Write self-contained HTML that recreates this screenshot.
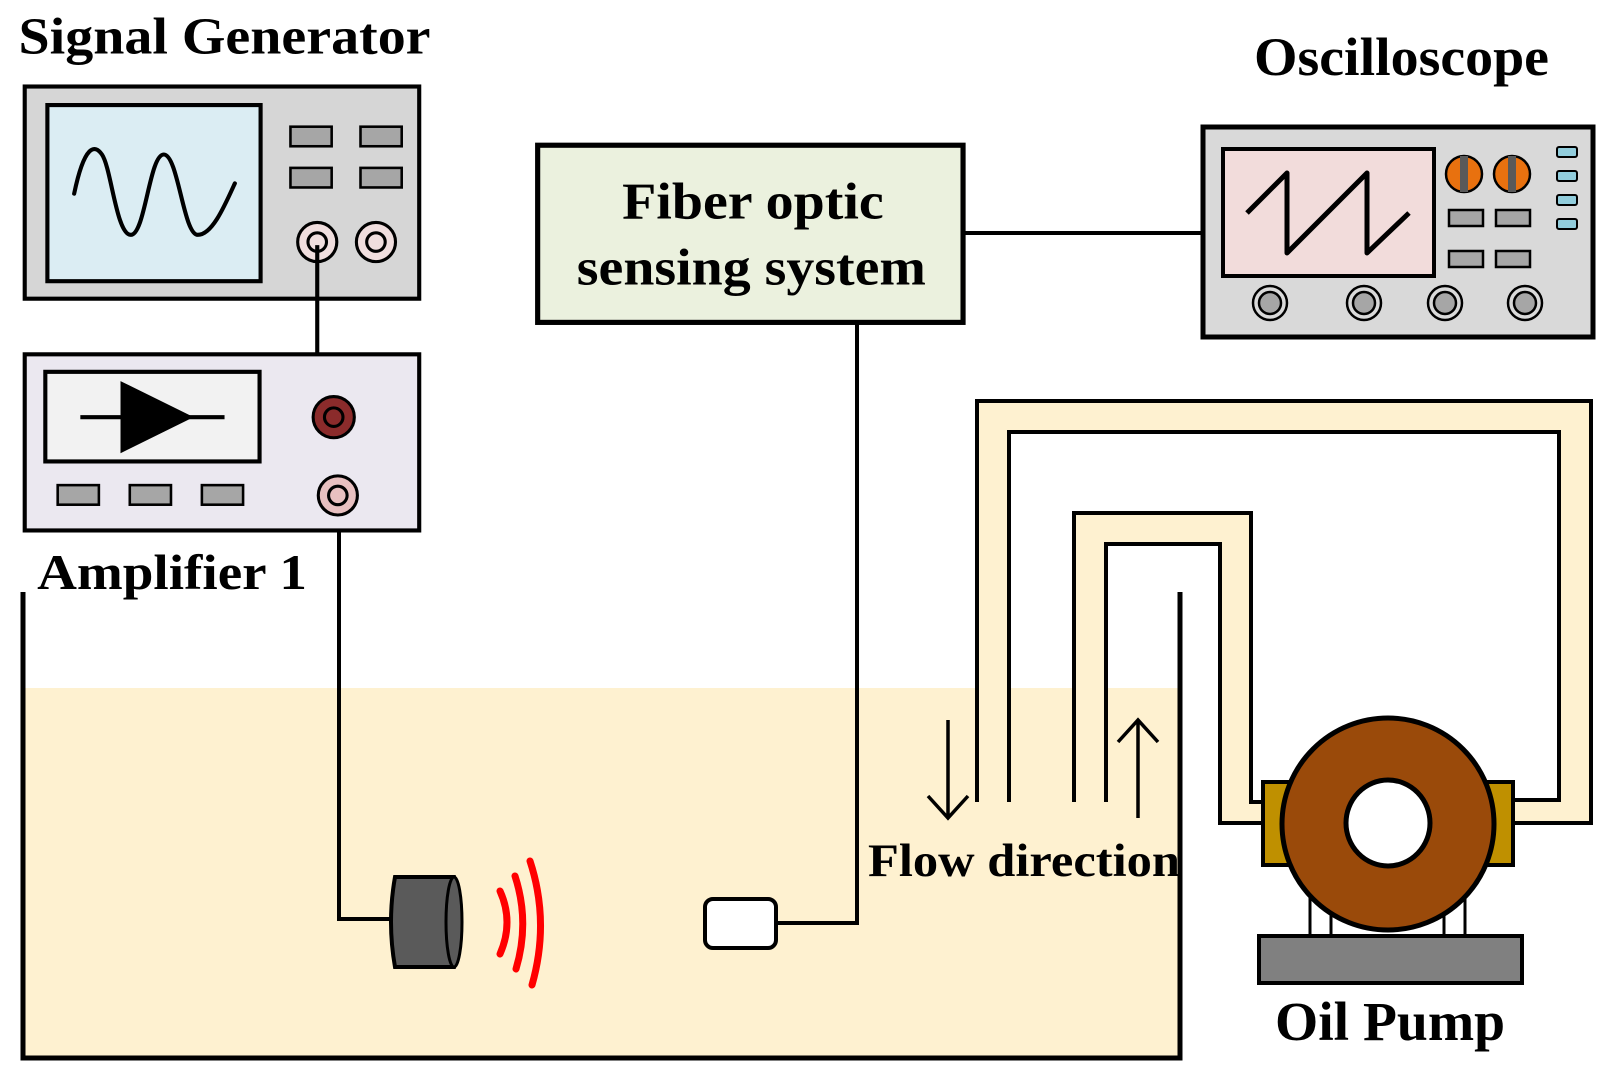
<!DOCTYPE html>
<html><head><meta charset="utf-8"><style>
html,body{margin:0;padding:0;background:#fff;}
svg{display:block;}
text{font-family:"Liberation Serif",serif;font-weight:bold;fill:#000;}
</style></head><body>
<svg width="1610" height="1086" viewBox="0 0 1610 1086" xmlns="http://www.w3.org/2000/svg">
<rect width="1610" height="1086" fill="#fff"/>
<!-- tank fill (actual coords) -->
<rect x="23" y="688" width="1157" height="370" fill="#fef1d0"/>
<!-- pipes fill -->
<path d="M977 401 H1591 V823 H1512 V800 H1559 V432 H1009 V802 H977 Z" fill="#fef1d0"/>
<path d="M1074 513 H1251 V802 H1270 V823 H1220 V544 H1106 V802 H1074 Z" fill="#fef1d0"/>
<g fill="none" stroke="#000" stroke-width="4" stroke-linejoin="miter">
<path d="M977 802 V401 H1591 V823 H1512"/>
<path d="M1009 802 V432 H1559 V800 H1512"/>
<path d="M1074 802 V513 H1251 V802 H1270"/>
<path d="M1106 802 V544 H1220 V823 H1270"/>
</g>
<!-- tank walls -->
<path d="M23 592 V1058 H1180 V592" fill="none" stroke="#000" stroke-width="5"/>
<!-- arrows -->
<g stroke="#000" stroke-width="3.5" fill="none">
<path d="M948 720 V818 M928 796 L948 818 L968 796"/>
<path d="M1138 818 V720 M1118 742 L1138 720 L1158 742"/>
</g>
<text x="868" y="876" font-size="47" textLength="312" lengthAdjust="spacingAndGlyphs">Flow direction</text>

<!-- pump -->
<g stroke="#000" stroke-width="3">
<line x1="1310" y1="890" x2="1310" y2="935"/><line x1="1331" y1="890" x2="1331" y2="935"/>
<line x1="1444" y1="890" x2="1444" y2="935"/><line x1="1465" y1="890" x2="1465" y2="935"/>
</g>
<rect x="1263" y="782" width="28" height="83" fill="#bf9000" stroke="#000" stroke-width="4"/>
<rect x="1485" y="782" width="28" height="83" fill="#bf9000" stroke="#000" stroke-width="4"/>
<ellipse cx="1388" cy="824" rx="106" ry="106" fill="#9a4a0a" stroke="#000" stroke-width="5"/>
<ellipse cx="1388" cy="823" rx="42" ry="43" fill="#fff" stroke="#000" stroke-width="5"/>
<rect x="1259" y="936" width="263" height="47" fill="#808080" stroke="#000" stroke-width="4"/>
<text x="1275" y="1040" font-size="55" textLength="230" lengthAdjust="spacingAndGlyphs">Oil Pump</text>

<!-- transducer & sensor (actual) -->
<path d="M339 530 V919 H390" fill="none" stroke="#000" stroke-width="4"/>
<path d="M395 877 H454 Q462 922 454 967 H395 Q387 922 395 877 Z" fill="#5a5a5a" stroke="#000" stroke-width="4"/>
<ellipse cx="454" cy="922" rx="8" ry="45" fill="#5a5a5a" stroke="#000" stroke-width="3"/>
<g stroke="#f00" stroke-width="7" stroke-linecap="round" fill="none">
<path d="M500 891 Q514 922 500 954"/>
<path d="M515 876 Q530 922 516 969"/>
<path d="M530 861 Q550 922 532 985"/>
</g>
<rect x="705" y="899" width="71" height="49" rx="8" fill="#fff" stroke="#000" stroke-width="4"/>
<path d="M776 923 H857 V322" fill="none" stroke="#000" stroke-width="4"/>

<!-- oscilloscope (actual) -->
<line x1="963" y1="233" x2="1203" y2="233" stroke="#000" stroke-width="4"/>
<rect x="1203" y="127" width="390" height="210" fill="#d9d9d9" stroke="#000" stroke-width="5"/>
<rect x="1223" y="149" width="211" height="127" fill="#f2dcdb" stroke="#000" stroke-width="4"/>
<path d="M1247 213 L1287 173 V253 L1367 173 V253 L1409 213" fill="none" stroke="#000" stroke-width="5" stroke-linejoin="round"/>
<circle cx="1464" cy="174" r="18" fill="#e8710f" stroke="#000" stroke-width="2.5"/>
<rect x="1460" y="156" width="8" height="36" fill="#595959"/>
<circle cx="1512" cy="174" r="18" fill="#e8710f" stroke="#000" stroke-width="2.5"/>
<rect x="1508" y="156" width="8" height="36" fill="#595959"/>
<g fill="#a6a6a6" stroke="#000" stroke-width="2.5">
<rect x="1449" y="210" width="34" height="16"/><rect x="1496" y="210" width="34" height="16"/>
<rect x="1449" y="251" width="34" height="16"/><rect x="1496" y="251" width="34" height="16"/>
</g>
<g fill="#92cddc" stroke="#000" stroke-width="2">
<rect x="1557" y="147" width="20" height="10" rx="2"/><rect x="1557" y="171" width="20" height="10" rx="2"/>
<rect x="1557" y="195" width="20" height="10" rx="2"/><rect x="1557" y="219" width="20" height="10" rx="2"/>
</g>
<g stroke="#000" stroke-width="2.5">
<circle cx="1270" cy="303" r="17" fill="#d9d9d9"/><circle cx="1270" cy="303" r="11" fill="#a6a6a6"/>
<circle cx="1364" cy="303" r="17" fill="#d9d9d9"/><circle cx="1364" cy="303" r="11" fill="#a6a6a6"/>
<circle cx="1445" cy="303" r="17" fill="#d9d9d9"/><circle cx="1445" cy="303" r="11" fill="#a6a6a6"/>
<circle cx="1525" cy="303" r="17" fill="#d9d9d9"/><circle cx="1525" cy="303" r="11" fill="#a6a6a6"/>
</g>
<text x="1254" y="75" font-size="54" textLength="295" lengthAdjust="spacingAndGlyphs">Oscilloscope</text>

<!-- displayed-coordinate group -->
<g transform="scale(1.03)">
<text x="18" y="52" font-size="50" textLength="400" lengthAdjust="spacingAndGlyphs">Signal Generator</text>
<rect x="24" y="84" width="383" height="206" fill="#d6d6d6" stroke="#000" stroke-width="4"/>
<rect x="46" y="102" width="207" height="171" fill="#dbedf3" stroke="#000" stroke-width="4"/>
<path d="M72 188 C82 140 92 140 99 150 C108 163 113 228 127 228 C141 228 145 150 159 150 C173 150 178 228 192 228 C206 228 218 200 228 178" fill="none" stroke="#000" stroke-width="4" stroke-linecap="round"/>
<g fill="#a6a6a6" stroke="#000" stroke-width="2.5">
<rect x="282" y="123" width="40" height="19"/><rect x="350" y="123" width="40" height="19"/>
<rect x="282" y="163" width="40" height="19"/><rect x="350" y="163" width="40" height="19"/>
</g>
<g stroke="#000" stroke-width="3" fill="#f0dede">
<circle cx="308" cy="235" r="19"/><circle cx="308" cy="235" r="9"/>
<circle cx="365" cy="235" r="19"/><circle cx="365" cy="235" r="9"/>
</g>
<line x1="308" y1="238" x2="308" y2="344" stroke="#000" stroke-width="4"/>
<rect x="24" y="344" width="383" height="171" fill="#ebe8f0" stroke="#000" stroke-width="4"/>
<rect x="44" y="361" width="208" height="87" fill="#f2f2f2" stroke="#000" stroke-width="4"/>
<line x1="78" y1="405" x2="218" y2="405" stroke="#000" stroke-width="4"/>
<path d="M117 370 L117 440 L188 405 Z" fill="#000"/>
<g fill="#a6a6a6" stroke="#000" stroke-width="2.5">
<rect x="56" y="471" width="40" height="19"/><rect x="126" y="471" width="40" height="19"/><rect x="196" y="471" width="40" height="19"/>
</g>
<circle cx="324" cy="405" r="20" fill="#8b2b2b" stroke="#000" stroke-width="3"/>
<circle cx="324" cy="405" r="9" fill="#8b2b2b" stroke="#000" stroke-width="3"/>
<circle cx="328" cy="481" r="19" fill="#e8c0c0" stroke="#000" stroke-width="3"/>
<circle cx="328" cy="481" r="9" fill="#e8c0c0" stroke="#000" stroke-width="3"/>
<text x="36" y="572" font-size="48" textLength="262" lengthAdjust="spacingAndGlyphs">Amplifier 1</text>
<rect x="522" y="141" width="413" height="172" fill="#ebf1de" stroke="#000" stroke-width="5"/>
<text x="604" y="212" font-size="50" textLength="254" lengthAdjust="spacingAndGlyphs">Fiber optic</text>
<text x="560" y="276" font-size="50" textLength="339" lengthAdjust="spacingAndGlyphs">sensing system</text>
</g>
</svg>
</body></html>
